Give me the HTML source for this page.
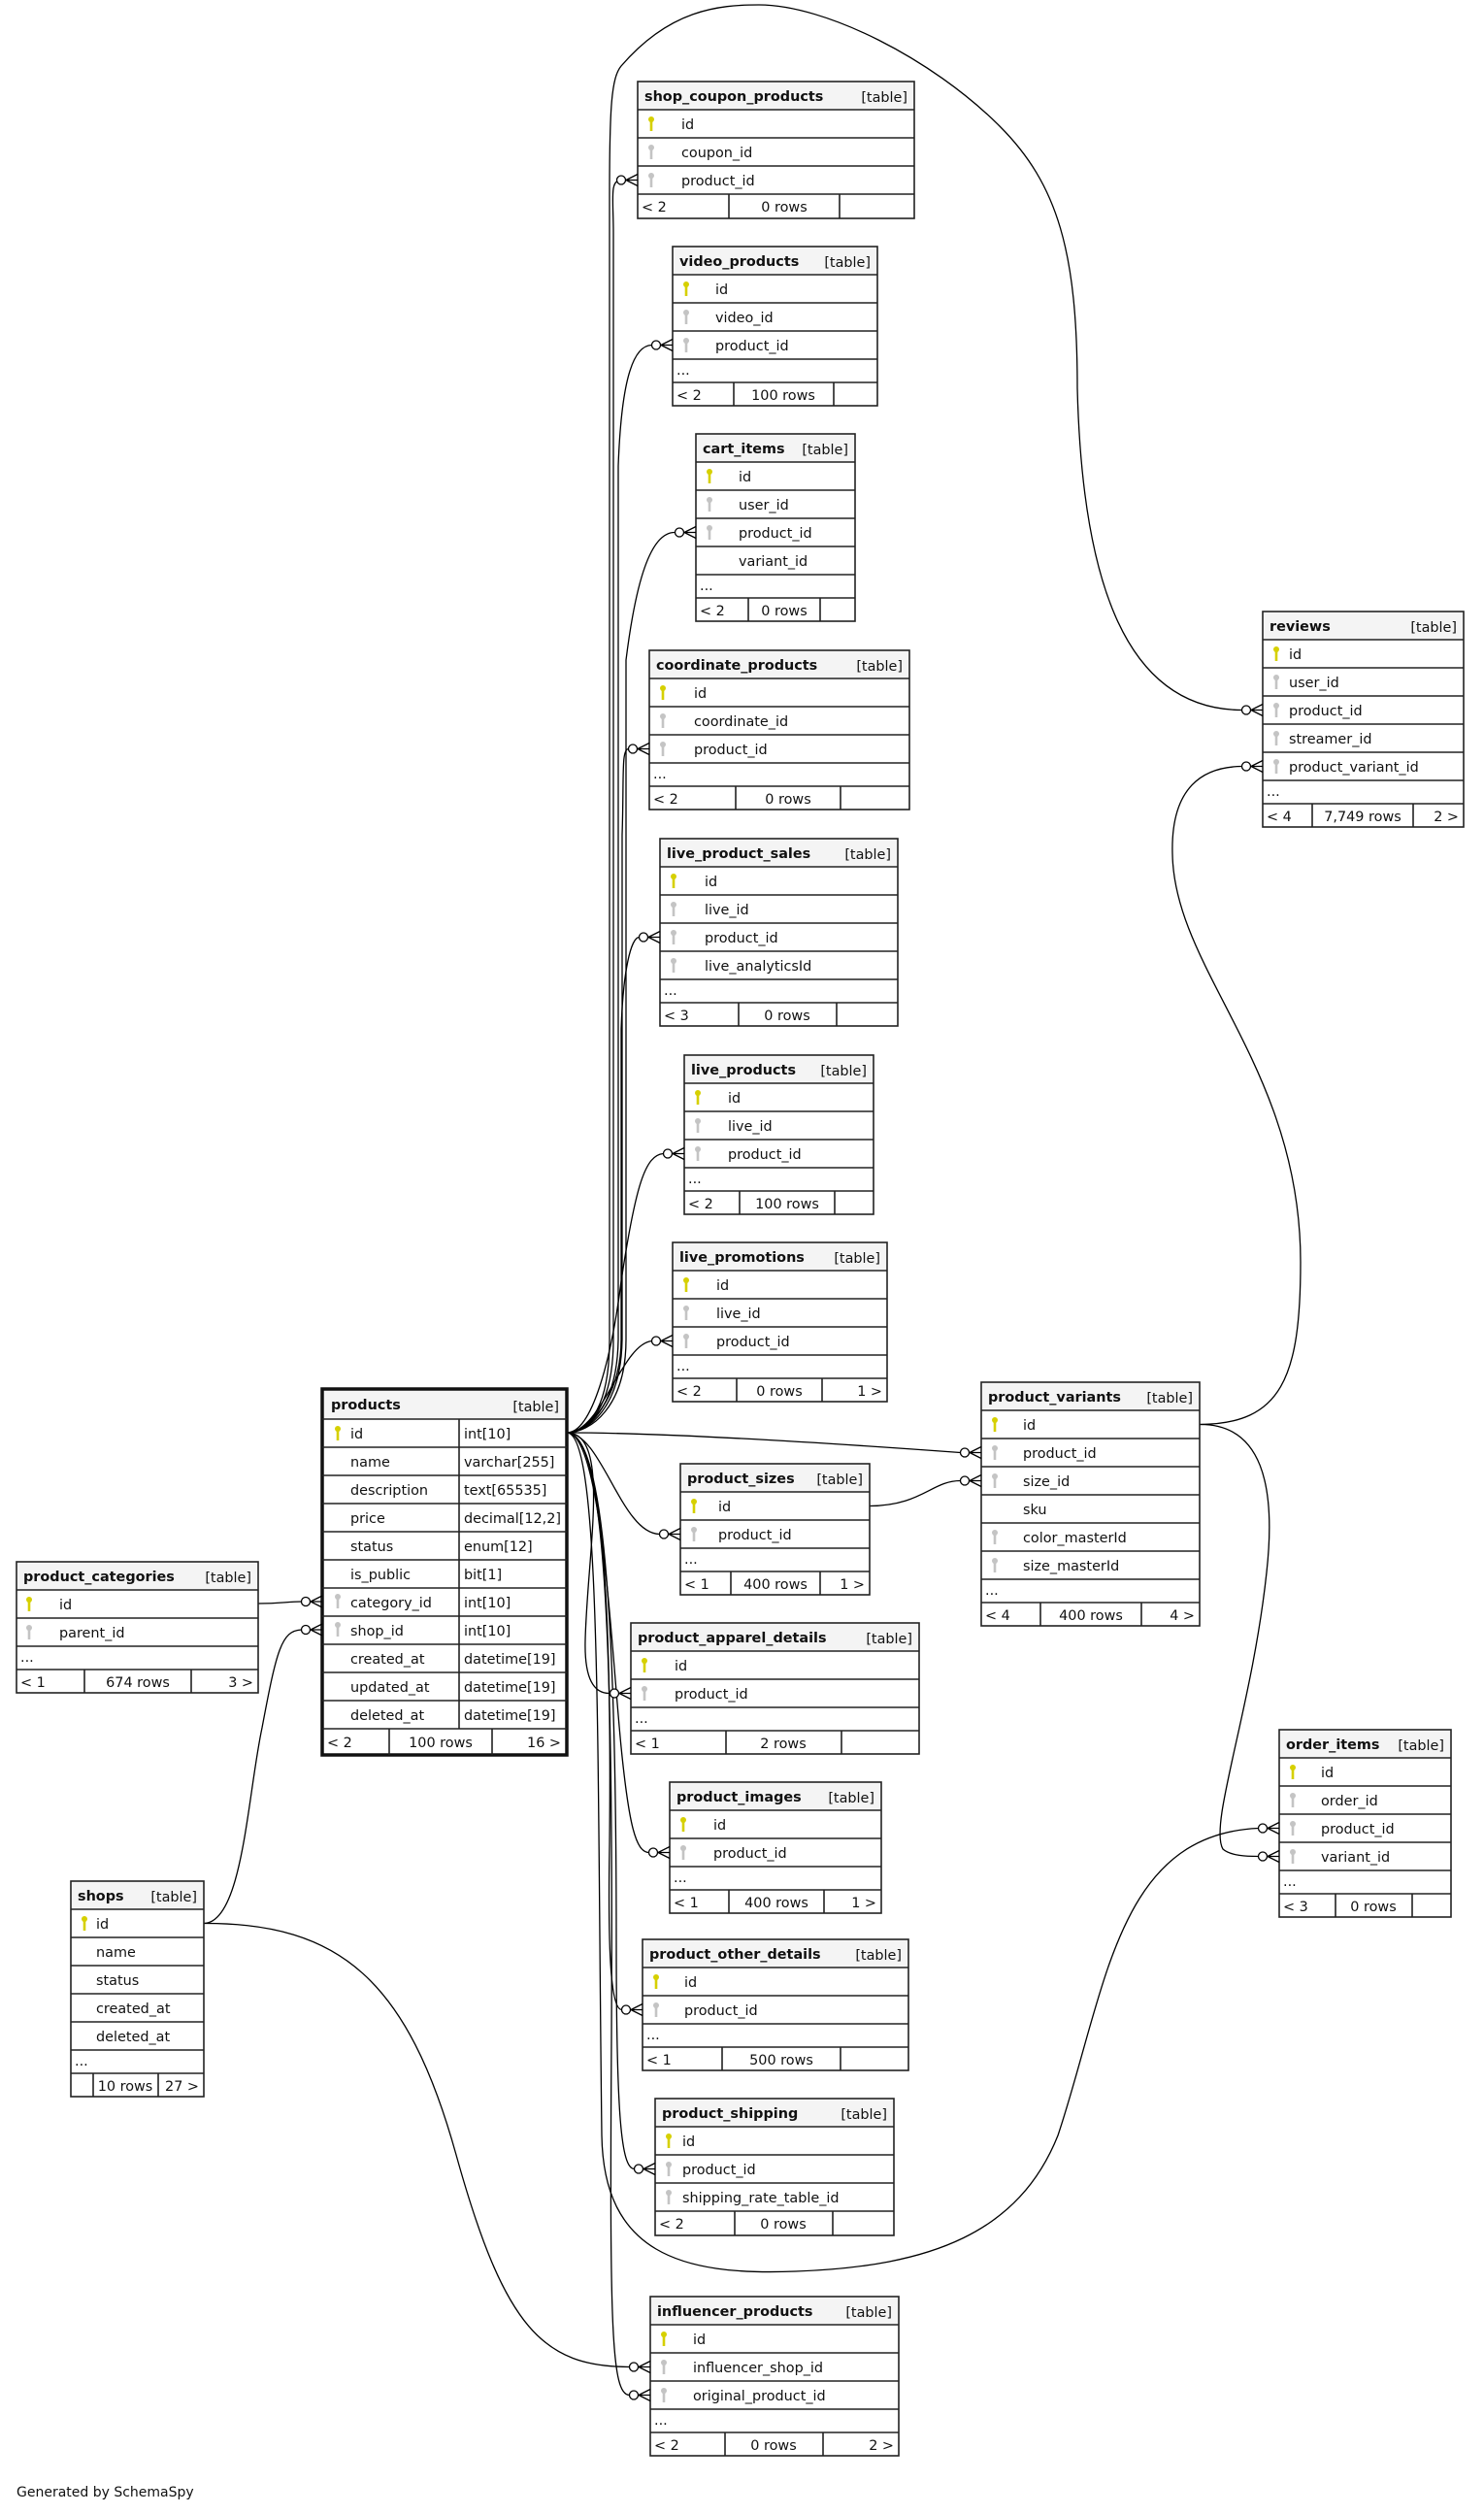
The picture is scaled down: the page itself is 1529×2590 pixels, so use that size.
<!DOCTYPE html>
<html><head><meta charset="utf-8"><style>
html,body{margin:0;padding:0;background:#fff;width:1529px;height:2590px;overflow:hidden}
svg{display:block}
text{font-family:"DejaVu Sans","Liberation Sans",sans-serif;font-size:14.4px;fill:#111}
.b{font-weight:bold}
.r{text-anchor:end}
.m{text-anchor:middle}
.bx{fill:#fff;stroke:#222;stroke-width:1.6}
.hd{fill:#f4f4f4}
.ln{stroke:#222;stroke-width:1.6;fill:none}
.c{fill:none;stroke:#000;stroke-width:1.3}
</style></head><body>
<svg width="1529" height="2590" viewBox="0 0 1529 2590" xmlns="http://www.w3.org/2000/svg">
<defs>
<g id="pk"><circle cx="0" cy="3" r="3" fill="#d6d000"/><rect x="-1.3" y="4" width="2.6" height="11" fill="#d6d000"/></g>
<g id="fk"><circle cx="0" cy="3" r="3" fill="#c4c4c4"/><rect x="-1.3" y="4" width="2.6" height="11" fill="#c4c4c4"/></g>
<g id="cf"><path d="M-12.5,0 H0 M-12,0 L0,-6 M-12,0 L0,6" stroke="#000" stroke-width="1.3" fill="none"/><circle cx="-17" cy="0" r="4.5" fill="#fff" stroke="#000" stroke-width="1.3"/></g>
</defs>

<!-- connectors -->
<path class="c" d="M584,1476 C600,1476 628,1460 628,1380 L628,200 C628,110 630,80 640,68 C690,10 740,5 782,5 C850,5 960,60 1030,130 C1090,190 1110,260 1110,400 C1115,600 1160,731 1279.5,731.5"/>
<path class="c" d="M584,1476 C605,1476 632,1450 632,1380 L632,240 C632,205 628,186 639.5,185.5"/>
<path class="c" d="M584,1476 C605,1476 636,1450 637,1380 L637,480 C640,400 650,356 671.5,355.5"/>
<path class="c" d="M584,1476 C608,1476 645,1450 645,1380 L645,680 C655,600 670,548 695.5,548.5"/>
<path class="c" d="M584,1476 C606,1476 640,1450 641,1380 L641,860 C643,800 640,772 647.5,771.5"/>
<path class="c" d="M584,1476 C606,1476 640,1440 640,1380 L640,1060 C642,1000 650,966 658.5,965.5"/>
<path class="c" d="M584,1476 C610,1476 630,1400 640,1320 C655,1220 665,1190 683.5,1188.5"/>
<path class="c" d="M584,1476 C620,1476 640,1385 671.5,1381.5"/>
<path class="c" d="M584,1476 C700,1476 900,1490 989.5,1496.5"/>
<path class="c" d="M584,1476 C620,1476 640,1580 679.5,1580.5"/>
<path class="c" d="M584,1476 C630,1476 605,1600 603,1690 C602,1730 612,1745 628.5,1744.5"/>
<path class="c" d="M584,1476 C620,1476 630,1700 640,1800 C648,1880 655,1908 668.5,1908.5"/>
<path class="c" d="M584,1476 C625,1476 630,1700 628,1900 C626,2020 630,2070 640.5,2070.5"/>
<path class="c" d="M584,1476 C625,1476 635,1700 635,2000 C635,2180 640,2234 653.5,2234.5"/>
<path class="c" d="M584,1476 C625,1476 632,1700 630,2100 C628,2400 630,2467 648.5,2467.5"/>
<path class="c" d="M584,1476 C620,1476 615,1800 620,2200 C622,2320 700,2345 820,2340 C960,2335 1050,2300 1090,2200 C1140,2050 1150,1890 1296.5,1883.5"/>
<path class="c" d="M1236,1467.5 C1320,1467 1340,1420 1340,1300 C1340,1100 1210,1000 1208,880 C1206,810 1240,790 1279.5,789.5"/>
<path class="c" d="M1236,1467.5 C1300,1467 1315,1530 1305,1620 C1290,1760 1245,1880 1260,1905 C1268,1912 1285,1912.5 1296.5,1912.5"/>
<path class="c" d="M896,1551.5 C950,1551 960,1525.5 989.5,1525.5"/>
<path class="c" d="M266,1652 C290,1652 295,1650 310.5,1650"/>
<path class="c" d="M210,1981.5 C250,1981 255,1850 270,1780 C285,1700 290,1680 310.5,1679"/>
<path class="c" d="M210,1981.5 C350,1981 420,2040 470,2220 C520,2400 560,2438 648.5,2438.5"/>

<!-- shop_coupon_products -->
<g transform="translate(657,84)">
<rect class="bx" width="285" height="141"/><rect class="hd" x="1" y="1" width="283" height="28"/>
<path class="ln" d="M0,29H285M0,58H285M0,87H285M0,116H285M94,116V141M208,116V141"/>
<text x="7" y="20" class="b">shop_coupon_products</text><text x="278" y="21" class="r">[table]</text>
<use href="#pk" x="14" y="36"/><use href="#fk" x="14" y="65"/><use href="#fk" x="14" y="94"/>
<text x="45" y="49">id</text><text x="45" y="78">coupon_id</text><text x="45" y="107">product_id</text>
<text x="4" y="134">&lt; 2</text><text x="151" y="134" class="m">0 rows</text>
</g>

<!-- video_products -->
<g transform="translate(693,254)">
<rect class="bx" width="211" height="164"/><rect class="hd" x="1" y="1" width="209" height="28"/>
<path class="ln" d="M0,29H211M0,58H211M0,87H211M0,116H211M0,140H211M63,140V164M166,140V164"/>
<text x="7" y="20" class="b">video_products</text><text x="204" y="21" class="r">[table]</text>
<use href="#pk" x="14" y="36"/><use href="#fk" x="14" y="65"/><use href="#fk" x="14" y="94"/>
<text x="44" y="49">id</text><text x="44" y="78">video_id</text><text x="44" y="107">product_id</text>
<text x="4" y="132">...</text>
<text x="4" y="158">&lt; 2</text><text x="114" y="158" class="m">100 rows</text>
</g>

<!-- cart_items -->
<g transform="translate(717,447)">
<rect class="bx" width="164" height="193"/><rect class="hd" x="1" y="1" width="162" height="28"/>
<path class="ln" d="M0,29H164M0,58H164M0,87H164M0,116H164M0,145H164M0,169H164M54,169V193M128,169V193"/>
<text x="7" y="20" class="b">cart_items</text><text x="157" y="21" class="r">[table]</text>
<use href="#pk" x="14" y="36"/><use href="#fk" x="14" y="65"/><use href="#fk" x="14" y="94"/>
<text x="44" y="49">id</text><text x="44" y="78">user_id</text><text x="44" y="107">product_id</text><text x="44" y="136">variant_id</text>
<text x="4" y="161">...</text>
<text x="4" y="187">&lt; 2</text><text x="91" y="187" class="m">0 rows</text>
</g>

<!-- coordinate_products -->
<g transform="translate(669,670)">
<rect class="bx" width="268" height="164"/><rect class="hd" x="1" y="1" width="266" height="28"/>
<path class="ln" d="M0,29H268M0,58H268M0,87H268M0,116H268M0,140H268M89,140V164M197,140V164"/>
<text x="7" y="20" class="b">coordinate_products</text><text x="261" y="21" class="r">[table]</text>
<use href="#pk" x="14" y="36"/><use href="#fk" x="14" y="65"/><use href="#fk" x="14" y="94"/>
<text x="46" y="49">id</text><text x="46" y="78">coordinate_id</text><text x="46" y="107">product_id</text>
<text x="4" y="132">...</text>
<text x="4" y="158">&lt; 2</text><text x="143" y="158" class="m">0 rows</text>
</g>

<!-- live_product_sales -->
<g transform="translate(680,864)">
<rect class="bx" width="245" height="193"/><rect class="hd" x="1" y="1" width="243" height="28"/>
<path class="ln" d="M0,29H245M0,58H245M0,87H245M0,116H245M0,145H245M0,169H245M81,169V193M182,169V193"/>
<text x="7" y="20" class="b">live_product_sales</text><text x="238" y="21" class="r">[table]</text>
<use href="#pk" x="14" y="36"/><use href="#fk" x="14" y="65"/><use href="#fk" x="14" y="94"/><use href="#fk" x="14" y="123"/>
<text x="46" y="49">id</text><text x="46" y="78">live_id</text><text x="46" y="107">product_id</text><text x="46" y="136">live_analyticsId</text>
<text x="4" y="161">...</text>
<text x="4" y="187">&lt; 3</text><text x="131" y="187" class="m">0 rows</text>
</g>

<!-- live_products -->
<g transform="translate(705,1087)">
<rect class="bx" width="195" height="164"/><rect class="hd" x="1" y="1" width="193" height="28"/>
<path class="ln" d="M0,29H195M0,58H195M0,87H195M0,116H195M0,140H195M57,140V164M155,140V164"/>
<text x="7" y="20" class="b">live_products</text><text x="188" y="21" class="r">[table]</text>
<use href="#pk" x="14" y="36"/><use href="#fk" x="14" y="65"/><use href="#fk" x="14" y="94"/>
<text x="45" y="49">id</text><text x="45" y="78">live_id</text><text x="45" y="107">product_id</text>
<text x="4" y="132">...</text>
<text x="4" y="158">&lt; 2</text><text x="106" y="158" class="m">100 rows</text>
</g>

<!-- live_promotions -->
<g transform="translate(693,1280)">
<rect class="bx" width="221" height="164"/><rect class="hd" x="1" y="1" width="219" height="28"/>
<path class="ln" d="M0,29H221M0,58H221M0,87H221M0,116H221M0,140H221M66,140V164M154,140V164"/>
<text x="7" y="20" class="b">live_promotions</text><text x="214" y="21" class="r">[table]</text>
<use href="#pk" x="14" y="36"/><use href="#fk" x="14" y="65"/><use href="#fk" x="14" y="94"/>
<text x="45" y="49">id</text><text x="45" y="78">live_id</text><text x="45" y="107">product_id</text>
<text x="4" y="132">...</text>
<text x="4" y="158">&lt; 2</text><text x="110" y="158" class="m">0 rows</text><text x="216" y="158" class="r">1 &gt;</text>
</g>

<!-- products -->
<g transform="translate(332,1431)">
<rect width="252" height="377" fill="#fff" stroke="#111" stroke-width="3.5"/><rect class="hd" x="2" y="2" width="248" height="29"/>
<path class="ln" d="M0,31H252M0,60H252M0,89H252M0,118H252M0,147H252M0,176H252M0,205H252M0,234H252M0,263H252M0,292H252M0,321H252M0,350H252M141,31V350M69,350V377M175,350V377"/>
<text x="9" y="21" class="b">products</text><text x="244" y="23" class="r">[table]</text>
<use href="#pk" x="16" y="38"/><use href="#fk" x="16" y="211"/><use href="#fk" x="16" y="240"/>
<text x="29" y="51">id</text><text x="29" y="80">name</text><text x="29" y="109">description</text><text x="29" y="138">price</text><text x="29" y="167">status</text><text x="29" y="196">is_public</text><text x="29" y="225">category_id</text><text x="29" y="254">shop_id</text><text x="29" y="283">created_at</text><text x="29" y="312">updated_at</text><text x="29" y="341">deleted_at</text>
<text x="146" y="51">int[10]</text><text x="146" y="80">varchar[255]</text><text x="146" y="109">text[65535]</text><text x="146" y="138">decimal[12,2]</text><text x="146" y="167">enum[12]</text><text x="146" y="196">bit[1]</text><text x="146" y="225">int[10]</text><text x="146" y="254">int[10]</text><text x="146" y="283">datetime[19]</text><text x="146" y="312">datetime[19]</text><text x="146" y="341">datetime[19]</text>
<text x="5" y="369">&lt; 2</text><text x="122" y="369" class="m">100 rows</text><text x="246" y="369" class="r">16 &gt;</text>
</g>

<!-- product_sizes -->
<g transform="translate(701,1508)">
<rect class="bx" width="195" height="135"/><rect class="hd" x="1" y="1" width="193" height="28"/>
<path class="ln" d="M0,29H195M0,58H195M0,87H195M0,111H195M52,111V135M144,111V135"/>
<text x="7" y="20" class="b">product_sizes</text><text x="188" y="21" class="r">[table]</text>
<use href="#pk" x="14" y="36"/><use href="#fk" x="14" y="65"/>
<text x="39" y="49">id</text><text x="39" y="78">product_id</text>
<text x="4" y="103">...</text>
<text x="4" y="129">&lt; 1</text><text x="98" y="129" class="m">400 rows</text><text x="190" y="129" class="r">1 &gt;</text>
</g>

<!-- product_apparel_details -->
<g transform="translate(650,1672)">
<rect class="bx" width="297" height="135"/><rect class="hd" x="1" y="1" width="295" height="28"/>
<path class="ln" d="M0,29H297M0,58H297M0,87H297M0,111H297M98,111V135M217,111V135"/>
<text x="7" y="20" class="b">product_apparel_details</text><text x="290" y="21" class="r">[table]</text>
<use href="#pk" x="14" y="36"/><use href="#fk" x="14" y="65"/>
<text x="45" y="49">id</text><text x="45" y="78">product_id</text>
<text x="4" y="103">...</text>
<text x="4" y="129">&lt; 1</text><text x="157" y="129" class="m">2 rows</text>
</g>

<!-- product_images -->
<g transform="translate(690,1836)">
<rect class="bx" width="218" height="135"/><rect class="hd" x="1" y="1" width="216" height="28"/>
<path class="ln" d="M0,29H218M0,58H218M0,87H218M0,111H218M61,111V135M159,111V135"/>
<text x="7" y="20" class="b">product_images</text><text x="211" y="21" class="r">[table]</text>
<use href="#pk" x="14" y="36"/><use href="#fk" x="14" y="65"/>
<text x="45" y="49">id</text><text x="45" y="78">product_id</text>
<text x="4" y="103">...</text>
<text x="4" y="129">&lt; 1</text><text x="110" y="129" class="m">400 rows</text><text x="213" y="129" class="r">1 &gt;</text>
</g>

<!-- product_other_details -->
<g transform="translate(662,1998)">
<rect class="bx" width="274" height="135"/><rect class="hd" x="1" y="1" width="272" height="28"/>
<path class="ln" d="M0,29H274M0,58H274M0,87H274M0,111H274M82,111V135M204,111V135"/>
<text x="7" y="20" class="b">product_other_details</text><text x="267" y="21" class="r">[table]</text>
<use href="#pk" x="14" y="36"/><use href="#fk" x="14" y="65"/>
<text x="43" y="49">id</text><text x="43" y="78">product_id</text>
<text x="4" y="103">...</text>
<text x="4" y="129">&lt; 1</text><text x="143" y="129" class="m">500 rows</text>
</g>

<!-- product_shipping -->
<g transform="translate(675,2162)">
<rect class="bx" width="246" height="141"/><rect class="hd" x="1" y="1" width="244" height="28"/>
<path class="ln" d="M0,29H246M0,58H246M0,87H246M0,116H246M82,116V141M183,116V141"/>
<text x="7" y="20" class="b">product_shipping</text><text x="239" y="21" class="r">[table]</text>
<use href="#pk" x="14" y="36"/><use href="#fk" x="14" y="65"/><use href="#fk" x="14" y="94"/>
<text x="28" y="49">id</text><text x="28" y="78">product_id</text><text x="28" y="107">shipping_rate_table_id</text>
<text x="4" y="134">&lt; 2</text><text x="132" y="134" class="m">0 rows</text>
</g>

<!-- influencer_products -->
<g transform="translate(670,2366)">
<rect class="bx" width="256" height="164"/><rect class="hd" x="1" y="1" width="254" height="28"/>
<path class="ln" d="M0,29H256M0,58H256M0,87H256M0,116H256M0,140H256M77,140V164M178,140V164"/>
<text x="7" y="20" class="b">influencer_products</text><text x="249" y="21" class="r">[table]</text>
<use href="#pk" x="14" y="36"/><use href="#fk" x="14" y="65"/><use href="#fk" x="14" y="94"/>
<text x="44" y="49">id</text><text x="44" y="78">influencer_shop_id</text><text x="44" y="107">original_product_id</text>
<text x="4" y="132">...</text>
<text x="4" y="158">&lt; 2</text><text x="127" y="158" class="m">0 rows</text><text x="251" y="158" class="r">2 &gt;</text>
</g>

<!-- product_categories -->
<g transform="translate(17,1609)">
<rect class="bx" width="249" height="135"/><rect class="hd" x="1" y="1" width="247" height="28"/>
<path class="ln" d="M0,29H249M0,58H249M0,87H249M0,111H249M70,111V135M180,111V135"/>
<text x="7" y="20" class="b">product_categories</text><text x="242" y="21" class="r">[table]</text>
<use href="#pk" x="13" y="36"/><use href="#fk" x="13" y="65"/>
<text x="44" y="49">id</text><text x="44" y="78">parent_id</text>
<text x="4" y="103">...</text>
<text x="4" y="129">&lt; 1</text><text x="125" y="129" class="m">674 rows</text><text x="244" y="129" class="r">3 &gt;</text>
</g>

<!-- shops -->
<g transform="translate(73,1938)">
<rect class="bx" width="137" height="222"/><rect class="hd" x="1" y="1" width="135" height="28"/>
<path class="ln" d="M0,29H137M0,58H137M0,87H137M0,116H137M0,145H137M0,174H137M0,198H137M23,198V222M90,198V222"/>
<text x="7" y="20" class="b">shops</text><text x="130" y="21" class="r">[table]</text>
<use href="#pk" x="14" y="36"/>
<text x="26" y="49">id</text><text x="26" y="78">name</text><text x="26" y="107">status</text><text x="26" y="136">created_at</text><text x="26" y="165">deleted_at</text>
<text x="4" y="190">...</text>
<text x="56" y="216" class="m">10 rows</text><text x="132" y="216" class="r">27 &gt;</text>
</g>

<!-- reviews -->
<g transform="translate(1301,630)">
<rect class="bx" width="207" height="222"/><rect class="hd" x="1" y="1" width="205" height="28"/>
<path class="ln" d="M0,29H207M0,58H207M0,87H207M0,116H207M0,145H207M0,174H207M0,198H207M51,198V222M155,198V222"/>
<text x="7" y="20" class="b">reviews</text><text x="200" y="21" class="r">[table]</text>
<use href="#pk" x="14" y="36"/><use href="#fk" x="14" y="65"/><use href="#fk" x="14" y="94"/><use href="#fk" x="14" y="123"/><use href="#fk" x="14" y="152"/>
<text x="27" y="49">id</text><text x="27" y="78">user_id</text><text x="27" y="107">product_id</text><text x="27" y="136">streamer_id</text><text x="27" y="165">product_variant_id</text>
<text x="4" y="190">...</text>
<text x="4" y="216">&lt; 4</text><text x="103" y="216" class="m">7,749 rows</text><text x="202" y="216" class="r">2 &gt;</text>
</g>

<!-- product_variants -->
<g transform="translate(1011,1424)">
<rect class="bx" width="225" height="251"/><rect class="hd" x="1" y="1" width="223" height="28"/>
<path class="ln" d="M0,29H225M0,58H225M0,87H225M0,116H225M0,145H225M0,174H225M0,203H225M0,227H225M61,227V251M165,227V251"/>
<text x="7" y="20" class="b">product_variants</text><text x="218" y="21" class="r">[table]</text>
<use href="#pk" x="14" y="36"/><use href="#fk" x="14" y="65"/><use href="#fk" x="14" y="94"/><use href="#fk" x="14" y="152"/><use href="#fk" x="14" y="181"/>
<text x="43" y="49">id</text><text x="43" y="78">product_id</text><text x="43" y="107">size_id</text><text x="43" y="136">sku</text><text x="43" y="165">color_masterId</text><text x="43" y="194">size_masterId</text>
<text x="4" y="219">...</text>
<text x="4" y="245">&lt; 4</text><text x="113" y="245" class="m">400 rows</text><text x="220" y="245" class="r">4 &gt;</text>
</g>

<!-- order_items -->
<g transform="translate(1318,1782)">
<rect class="bx" width="177" height="193"/><rect class="hd" x="1" y="1" width="175" height="28"/>
<path class="ln" d="M0,29H177M0,58H177M0,87H177M0,116H177M0,145H177M0,169H177M58,169V193M137,169V193"/>
<text x="7" y="20" class="b">order_items</text><text x="170" y="21" class="r">[table]</text>
<use href="#pk" x="14" y="36"/><use href="#fk" x="14" y="65"/><use href="#fk" x="14" y="94"/><use href="#fk" x="14" y="123"/>
<text x="43" y="49">id</text><text x="43" y="78">order_id</text><text x="43" y="107">product_id</text><text x="43" y="136">variant_id</text>
<text x="4" y="161">...</text>
<text x="4" y="187">&lt; 3</text><text x="97" y="187" class="m">0 rows</text>
</g>

<!-- crow's foot ends -->
<use href="#cf" x="657" y="185.5"/>
<use href="#cf" x="693" y="355.5"/>
<use href="#cf" x="717" y="548.5"/>
<use href="#cf" x="669" y="771.5"/>
<use href="#cf" x="680" y="965.5"/>
<use href="#cf" x="705" y="1188.5"/>
<use href="#cf" x="693" y="1381.5"/>
<use href="#cf" x="1011" y="1496.5"/>
<use href="#cf" x="1011" y="1525.5"/>
<use href="#cf" x="701" y="1580.5"/>
<use href="#cf" x="650" y="1744.5"/>
<use href="#cf" x="690" y="1908.5"/>
<use href="#cf" x="662" y="2070.5"/>
<use href="#cf" x="675" y="2234.5"/>
<use href="#cf" x="670" y="2438.5"/>
<use href="#cf" x="670" y="2467.5"/>
<use href="#cf" x="1301" y="731.5"/>
<use href="#cf" x="1301" y="789.5"/>
<use href="#cf" x="1318" y="1883.5"/>
<use href="#cf" x="1318" y="1912.5"/>
<use href="#cf" x="332" y="1650"/>
<use href="#cf" x="332" y="1679"/>

<text x="17" y="2572" style="font-size:14px">Generated by SchemaSpy</text>
</svg>
</body></html>
